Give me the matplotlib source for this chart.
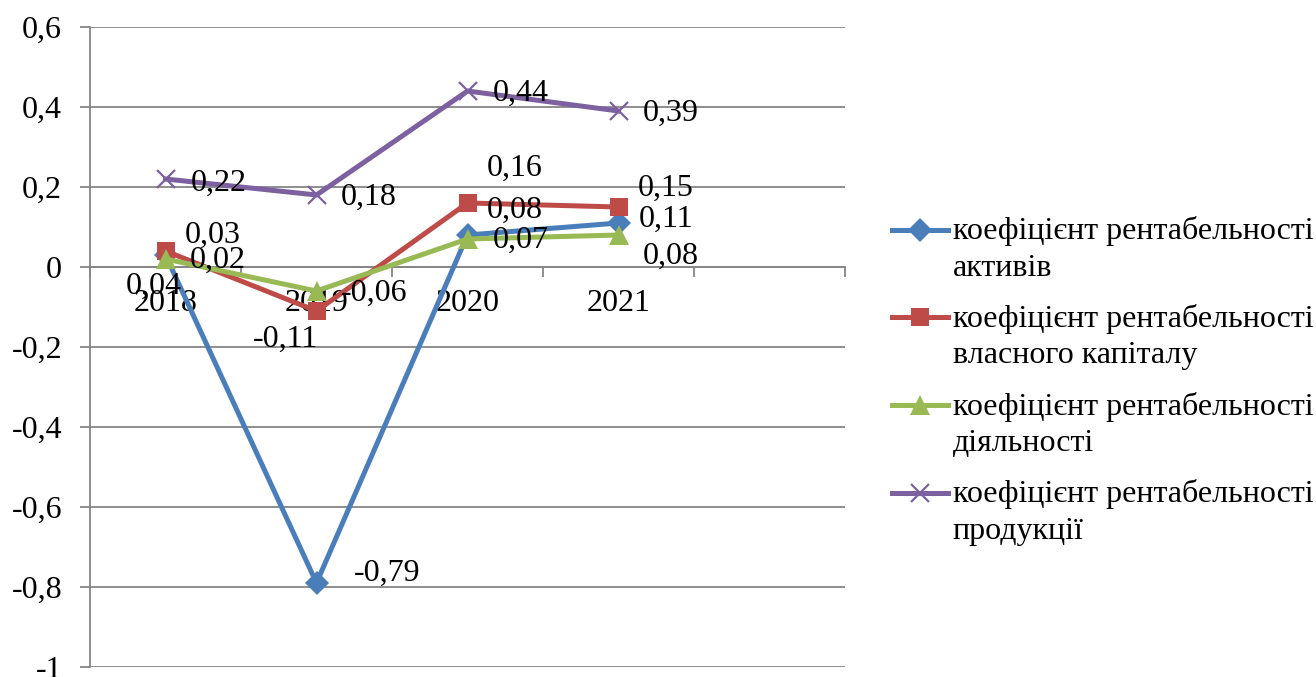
import matplotlib
matplotlib.use('Agg')
import matplotlib.pyplot as plt
from matplotlib.ticker import FixedLocator, FuncFormatter

plt.rcParams['font.family'] = ['Liberation Serif', 'DejaVu Serif']

years = ['2018', '2019', '2020', '2021', '']
assets = [0.03, -0.79, 0.08, 0.11]
equity = [0.04, -0.11, 0.16, 0.15]
activity = [0.02, -0.06, 0.07, 0.08]
product = [0.22, 0.18, 0.44, 0.39]

names = ['коефіцієнт рентабельності\nактивів',
         'коефіцієнт рентабельності\nвласного капіталу',
         'коефіцієнт рентабельності\nдіяльності',
         'коефіцієнт рентабельності\nпродукції']

# (colour, marker, marker size, label offsets in pixels)
styles = [
    ('#4A7EBB', 'D', 12, [(47, 20), (71, 10), (47, 25), (48, 4)]),
    ('#BE4B48', 's', 13, [(-12, -35), (-31, -28), (47, 35), (47, 19)]),
    ('#98B954', '^', 14, [(52, -1), (58, -2), (53, -1), (52, -21)]),
    ('#7D60A0', 'x', 13, [(53, -4), (52, -2), (53, -2), (52, -2)]),
]

fig = plt.figure(figsize=(13.16, 6.77), dpi=100)
ax = fig.add_axes([90/1316, 10/677, 755/1316, 640/677])

xs = list(range(len(assets)))
for vals, name, (col, mk, ms, offs) in zip([assets, equity, activity, product], names, styles):
    ax.plot(xs, vals, color=col, lw=3.6, marker=mk, ms=ms, mew=1.6 if mk == 'x' else 0,
            mec=col, label=name, zorder=3)
    for x, v, (dx, dy) in zip(xs, vals, offs):
        ax.annotate(('%g' % v).replace('.', ','), (x, v), xytext=(dx, dy),
                    textcoords='offset pixels', ha='center', va='center',
                    fontsize=23, zorder=5)

ax.set_xlim(-0.5, len(years) - 0.5)
ax.set_ylim(-1, 0.6)
ax.set_yticks([-1, -0.8, -0.6, -0.4, -0.2, 0, 0.2, 0.4, 0.6])
ax.yaxis.set_major_formatter(FuncFormatter(lambda v, p: ('%g' % round(v, 1)).replace('.', ',')))
ax.grid(axis='y', color='#868686', lw=1.3, zorder=0)
ax.tick_params(axis='y', length=7, width=1.3, color='#868686', labelsize=23, pad=13)

# category axis crosses at zero, ticks between categories
ax.spines['bottom'].set_position(('data', 0))
ax.xaxis.set_major_locator(FixedLocator([i - 0.5 for i in range(len(years) + 1)]))
ax.xaxis.set_major_formatter(FuncFormatter(lambda v, p: ''))
ax.xaxis.set_minor_locator(FixedLocator(range(len(years))))
ax.set_xticklabels(years, minor=True)
ax.tick_params(axis='x', which='major', length=7, width=1.3, color='#868686')
ax.tick_params(axis='x', which='minor', length=0, labelsize=23, pad=16)

for s in ['top', 'right']:
    ax.spines[s].set_visible(False)
for s in ['left', 'bottom']:
    ax.spines[s].set_color('#868686')
    ax.spines[s].set_linewidth(1.3)

leg = fig.legend(loc='upper left', bbox_to_anchor=(892/1316, 1 - 216/677), frameon=False,
                 fontsize=23, handlelength=1.75, handleheight=1.2, handletextpad=0.15,
                 labelspacing=0.66, borderaxespad=0, borderpad=0)
for t in leg.get_texts():
    t.set_linespacing(1.35)
for col in leg._legend_handle_box.get_children():
    for item in col.get_children():
        item.align = 'top'

fig.savefig('out.png', dpi=100)
